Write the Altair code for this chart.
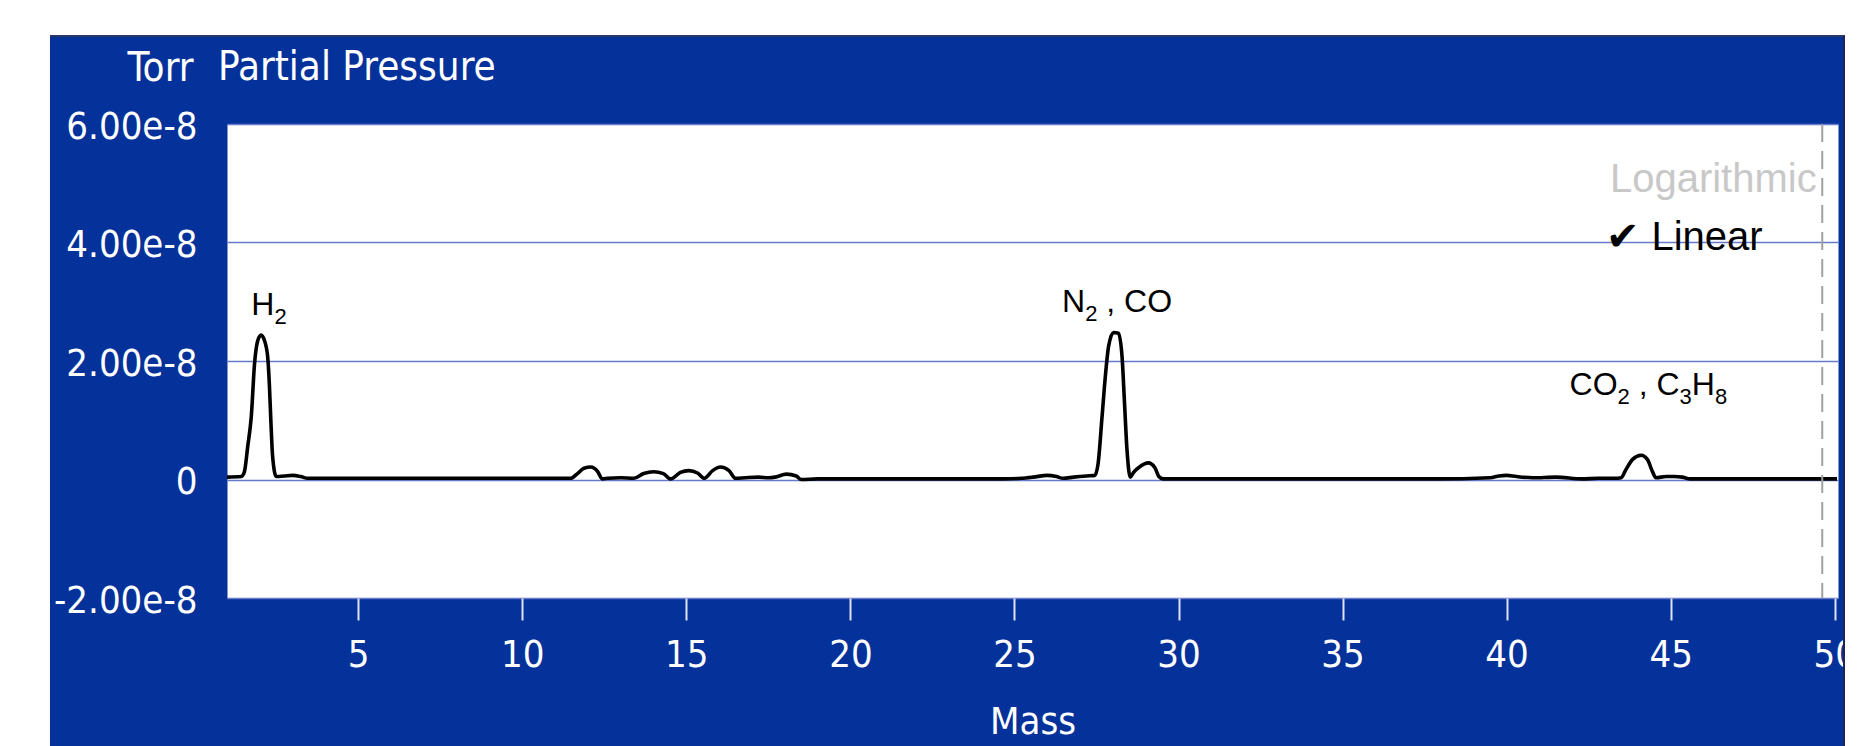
import altair as alt
import pandas as pd

# ---- spectrum (mass in amu, partial pressure in units of 1e-8 Torr)
mass = [1.0, 1.43, 1.53, 1.63, 1.74, 1.84, 1.94, 2.04, 2.14, 2.24, 2.29, 2.34, 2.39, 2.5,
        2.75, 3.0, 3.25, 3.46, 5.0, 8.0, 11.48, 11.68, 11.88, 12.09, 12.29, 12.44, 12.6,
        13.0, 13.4, 13.7, 14.0, 14.3, 14.52, 14.82, 15.07, 15.34, 15.55, 15.8, 16.04, 16.3,
        16.5, 16.8, 17.2, 17.5, 17.7, 18.05, 18.35, 18.5, 19.0, 22.0, 24.66, 25.2, 25.57,
        26.0, 26.28, 26.48, 26.8, 27.2, 27.45, 27.55, 27.67, 27.77, 27.87, 28.02, 28.17,
        28.28, 28.35, 28.43, 28.53, 28.63, 28.83, 29.08, 29.28, 29.4, 29.53, 31.0, 35.0,
        37.8, 39.5, 39.77, 40.0, 40.3, 40.8, 41.5, 42.3, 42.8, 43.3, 43.49, 43.64, 43.84,
        44.1, 44.29, 44.44, 44.55, 44.86, 45.1, 45.35, 45.6, 47.0, 50.07]
pressure_e8 = [0.04, 0.05, 0.13, 0.55, 1.06, 1.96, 2.35, 2.44, 2.35, 2.07, 1.62, 0.95, 0.39, 0.05,
               0.06, 0.07, 0.05, 0.02, 0.02, 0.02, 0.02, 0.10, 0.19, 0.21, 0.14, 0.01, 0.02,
               0.03, 0.02, 0.10, 0.13, 0.10, 0.01, 0.12, 0.15, 0.11, 0.02, 0.15, 0.21, 0.15,
               0.02, 0.03, 0.04, 0.03, 0.04, 0.09, 0.06, 0.00, 0.01, 0.01, 0.01, 0.02, 0.04,
               0.07, 0.05, 0.02, 0.04, 0.06, 0.07, 0.27, 1.06, 1.74, 2.25, 2.48, 2.47,
               2.07, 1.34, 0.50, 0.04, 0.12, 0.22, 0.28, 0.20, 0.05, 0.01, 0.01, 0.01,
               0.01, 0.03, 0.06, 0.07, 0.05, 0.03, 0.04, 0.01, 0.02, 0.02, 0.03, 0.17, 0.34,
               0.41, 0.34, 0.14, 0.03, 0.05, 0.05, 0.04, 0.01, 0.01, 0.01]

x_ticks = [5, 10, 15, 20, 25, 30, 35, 40, 45, 50]
y_ticks = [-2e-8, 0.0, 2e-8, 4e-8, 6e-8]

# peak labels: anchor (left edge, baseline) in data units, written as text pieces
peak_mass = [1.74, 26.45, 41.92]
peak_label_e8 = [2.78, 2.82, 1.43]
# (label index, text, is subscript, horizontal offset of the piece in px)
label_pieces = [
    (0, "H", False, 0.0), (0, "2", True, 23.1),
    (1, "N", False, 0.0), (1, "2", True, 23.1), (1, ",", False, 44.2), (1, "CO", False, 62.0),
    (2, "CO", False, 0.0), (2, "2", True, 48.0), (2, ",", False, 69.1), (2, "C", False, 86.9),
    (2, "3", True, 110.0), (2, "H", False, 122.2), (2, "8", True, 145.3),
]

log_label = ["Logarithmic"]
log_mass = [49.45]
log_e8 = [4.86]
lin_label = ["\u2714 Linear"]
lin_mass = [43.04]
lin_e8 = [3.88]

marker_mass = [49.62]

# ---- styling
BLUE = "#04319a"
COND = "DejaVu Sans Condensed, DejaVu Sans, sans-serif"
SANS = "Liberation Sans, Arial, sans-serif"
W, H = 1611, 474

df = pd.DataFrame({"Mass": mass, "Pressure": [p * 1e-8 for p in pressure_e8]})
logdf = pd.DataFrame({"Mass": log_mass, "Pressure": [v * 1e-8 for v in log_e8], "label": log_label})
lindf = pd.DataFrame({"Mass": lin_mass, "Pressure": [v * 1e-8 for v in lin_e8], "label": lin_label})
marker = pd.DataFrame({"Mass": marker_mass})
one = pd.DataFrame({"t": ["Partial Pressure"]})

xs = alt.Scale(domain=[1, 50.1], nice=False, zero=False)
ys = alt.Scale(domain=[-2e-8, 6e-8], nice=False, zero=False)

x_axis = alt.Axis(values=x_ticks, grid=False, domain=False, ticks=True, tickSize=22, tickWidth=2,
                  tickColor="#dfe3f5", labelColor="white", labelFont=COND, labelFontSize=38,
                  labelBaseline="alphabetic", labelPadding=46, labelFlush=False, labelOverlap=False,
                  title="Mass", titleColor="white", titleFont=COND, titleFontSize=38,
                  titleFontWeight="normal", titleY=135, titleBaseline="alphabetic")
y_axis = alt.Axis(values=y_ticks, grid=True, gridColor="#6679cb", gridWidth=1.6, domain=False,
                  ticks=False, tickSize=0, labelPadding=30, labelColor="white", labelFont=COND,
                  labelFontSize=38, labelBaseline="middle", labelOffset=3, labelFlush=False,
                  labelOverlap=False,
                  labelExpr="datum.value == 0 ? '0' : (datum.value < 0 ? '-' : '') + format(abs(datum.value), '.2e')",
                  title="Torr", titleAngle=0, titleAlign="right", titleBaseline="alphabetic",
                  titleX=-34, titleY=-44, titleColor="white", titleFont=COND, titleFontSize=40,
                  titleFontWeight="normal")

line = alt.Chart(df).mark_line(color="black", strokeWidth=3.6, interpolate="monotone",
                               strokeJoin="round").encode(
    x=alt.X("Mass:Q", scale=xs, axis=x_axis),
    y=alt.Y("Pressure:Q", scale=ys, axis=y_axis),
)

dash = alt.Chart(marker).mark_rule(color="#a0a0a0", strokeWidth=2, strokeDash=[18, 9]).encode(
    x=alt.X("Mass:Q", scale=xs),
    y=alt.value(0),
    y2=alt.value(H),
)

piece_layers = []
for idx, txt, is_sub, off in label_pieces:
    pdf = pd.DataFrame({"Mass": [peak_mass[idx]], "Pressure": [peak_label_e8[idx] * 1e-8], "label": [txt]})
    piece_layers.append(
        alt.Chart(pdf).mark_text(font=SANS, fontSize=22 if is_sub else 32, color="black",
                                 align="left", baseline="alphabetic", dx=off,
                                 dy=9 if is_sub else 0).encode(
            x=alt.X("Mass:Q", scale=xs), y=alt.Y("Pressure:Q", scale=ys), text="label:N")
    )

log_text = alt.Chart(logdf).mark_text(font=SANS, fontSize=40, color="#c8c8c8", align="right",
                                      baseline="alphabetic").encode(
    x=alt.X("Mass:Q", scale=xs), y=alt.Y("Pressure:Q", scale=ys), text="label:N")

lin_text = alt.Chart(lindf).mark_text(font=SANS, fontSize=40, color="black", align="left",
                                      baseline="alphabetic").encode(
    x=alt.X("Mass:Q", scale=xs), y=alt.Y("Pressure:Q", scale=ys), text="label:N")

title_text = alt.Chart(one).mark_text(font=COND, fontSize=40, color="white", align="left",
                                      baseline="alphabetic").encode(
    text="t:N", x=alt.value(-9), y=alt.value(-44))

# white page margins outside the blue instrument panel
white_top = alt.Chart(one).mark_rect(color="white").encode(
    x=alt.value(-227), x2=alt.value(W + 37), y=alt.value(-124), y2=alt.value(-89))
white_left = alt.Chart(one).mark_rect(color="white").encode(
    x=alt.value(-227), x2=alt.value(-177), y=alt.value(-124), y2=alt.value(H + 148))
white_right = alt.Chart(one).mark_rect(color="white").encode(
    x=alt.value(1618), x2=alt.value(W + 37), y=alt.value(-124), y2=alt.value(H + 148))
border_top = alt.Chart(one).mark_rule(color="#2b3566", strokeWidth=2).encode(
    x=alt.value(-177), x2=alt.value(1618), y=alt.value(-88))
border_right = alt.Chart(one).mark_rule(color="#1c2458", strokeWidth=2).encode(
    x=alt.value(1617), y=alt.value(-88), y2=alt.value(H + 148))

chart = alt.layer(
    line, dash, *piece_layers, log_text, lin_text, title_text,
    white_top, white_left, white_right, border_top, border_right,
).properties(
    width=W, height=H,
    padding={"left": 227, "top": 124, "right": 37, "bottom": 148},
    autosize=alt.AutoSizeParams(type="none"),
    background=BLUE,
).configure_view(fill="white", stroke="transparent")

chart.save("out.html", embed_options={"renderer": "svg", "actions": False})
